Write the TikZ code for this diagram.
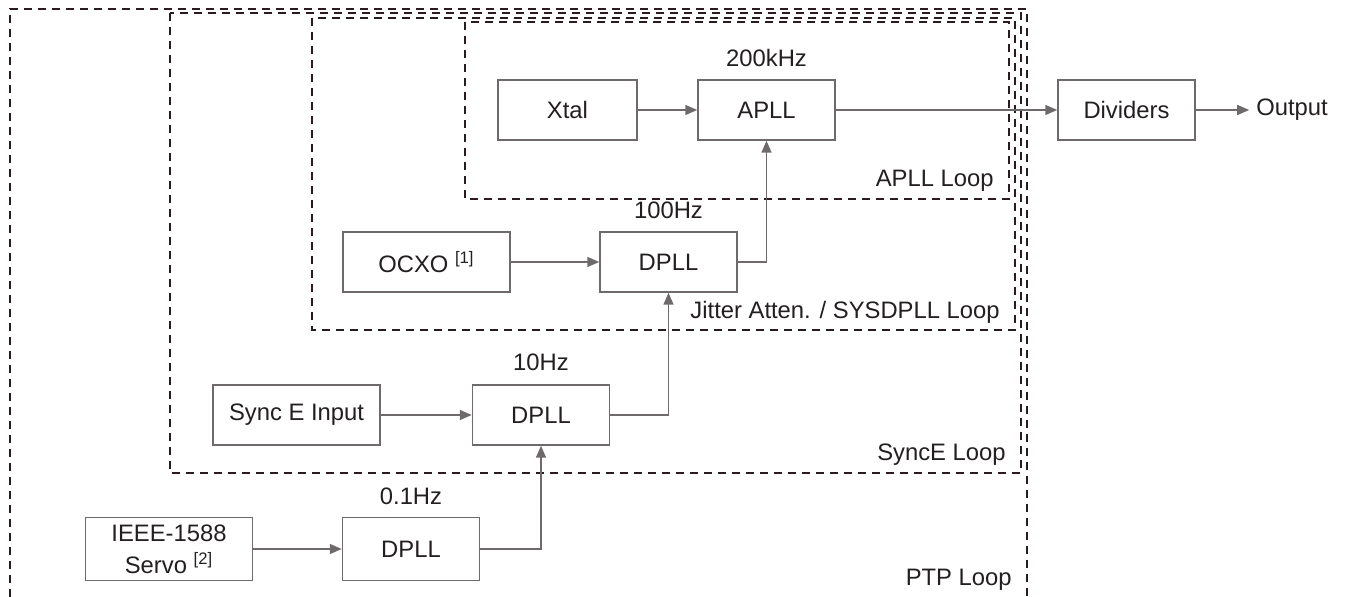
\documentclass[tikz,border=0pt]{standalone}
\usepackage{fontspec}
\setmainfont{Liberation Sans}
\usetikzlibrary{arrows.meta}
\definecolor{boxline}{HTML}{6E6A6C}
\definecolor{loopline}{HTML}{2A1A22}
\definecolor{txt}{HTML}{231F20}

\begin{document}
\begin{tikzpicture}[x=0.5pt, y=-0.5pt,
  font=\fontsize{11.9}{16}\selectfont, text=txt,
  blk/.style={draw=boxline, line width=0.75pt, rectangle, fill=white,
    minimum width=68.5pt, minimum height=30pt, align=center},
  wideblk/.style={blk, minimum width=83.5pt},
  loop/.style={draw=loopline, line width=1pt, dash pattern=on 4pt off 3pt},
  looplabel/.style={anchor=east, inner sep=0pt},
  conn/.style={draw=boxline, line width=0.75pt,
    -{Triangle[length=6pt, width=5pt]}}]
\useasboundingbox (0,0) rectangle (1351,597);

% nested loops
\draw[loop] (10,597) -- (10,9) -- (1027,9) -- (1027,597);
\draw[loop] (170,13) rectangle (1021,473);
\draw[loop] (312,18) rectangle (1015,330);
\draw[loop] (465,22) rectangle (1009,199);

\node[looplabel] (LA) at (994,181) {APLL Loop};
\node[looplabel] (LJ) at (1000,312) {Jitter Atten. / SYSDPLL Loop};
\node[looplabel] (LS) at (1006,455) {SyncE Loop};
\node[looplabel] (LP) at (1012,580) {PTP Loop};

% top row
\node[blk, minimum width=69.5pt] (Xtal) at (567.5,110) {Xtal};
\node[blk] (APLL) at (766.5,110) {APLL};
\node (FA) at (766.5,58) {200kHz};
\node[blk] (DIV) at (1126.5,110) {Dividers};
\node (OUT) at (1292,110) {Output};

% second row
\node[wideblk] (OCXO) at (426.5,262) {OCXO \textsuperscript{[1]}};
\node[blk] (DB) at (668.5,262) {DPLL};
\node (FB) at (668.5,210) {100Hz};

% third row
\node[wideblk] (SYNC) at (296.5,415) {Sync E Input};
\node[blk] (DC) at (541,415) {DPLL};
\node (FC) at (541,362) {10Hz};

% bottom row
\node[wideblk, minimum height=31.5pt] (IEEE) at (169,549) {IEEE-1588\\Servo \textsuperscript{[2]}};
\node[blk, minimum height=31.5pt] (DD) at (411,549) {DPLL};
\node (FD) at (411,496) {0.1Hz};

\draw[conn] (Xtal) -- (APLL);
\draw[conn] (APLL) -- (DIV);
\draw[conn] (DIV) -- (OUT);
\draw[conn] (OCXO) -- (DB);
\draw[conn] (DB.east) -| (APLL.south);
\draw[conn] (SYNC) -- (DC);
\draw[conn] (DC.east) -| (DB.south);
\draw[conn] (IEEE) -- (DD);
\draw[conn] (DD.east) -| (DC.south);
\end{tikzpicture}
\end{document}
